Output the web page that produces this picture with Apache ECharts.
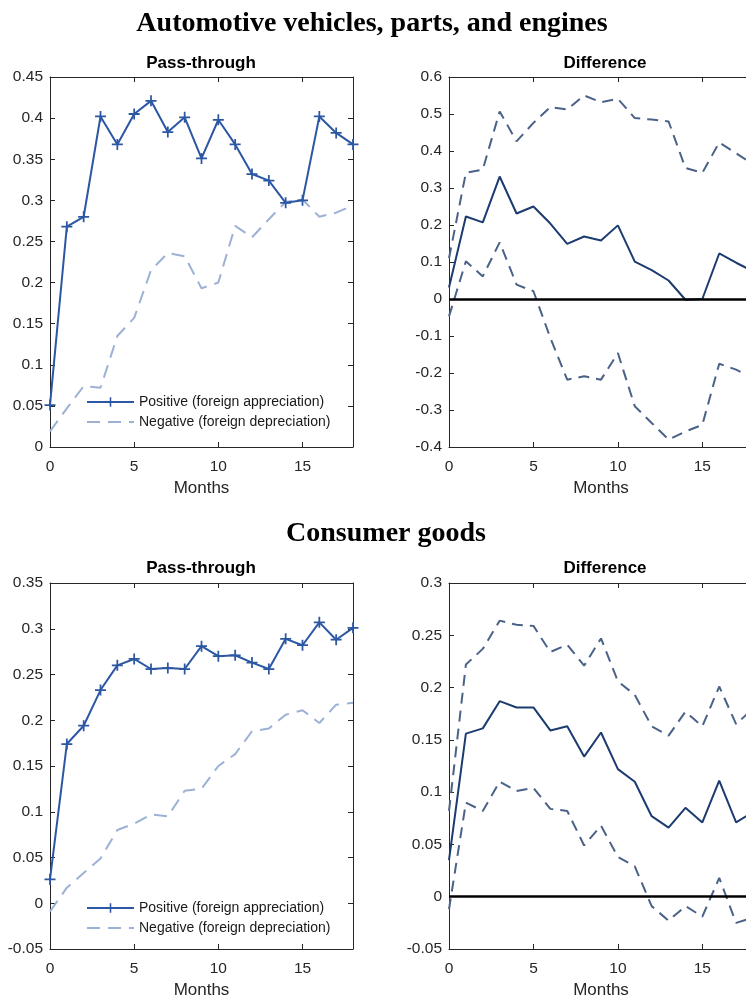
<!DOCTYPE html>
<html>
<head>
<meta charset="utf-8">
<script src="https://cdn.jsdelivr.net/npm/echarts@6/dist/echarts.min.js"></script>
<style>
  html, body { margin: 0; padding: 0; overflow: hidden; background: #fff; }
  #main { width: 760px; height: 1000px; }
</style>
</head>
<body>
<div id="main"></div>
<script>
// months after the shock
const months = [0, 1, 2, 3, 4, 5, 6, 7, 8, 9, 10, 11, 12, 13, 14, 15, 16, 17, 18];

// automotive vehicles, parts, and engines
const autoPos = [0.051, 0.268, 0.280, 0.402, 0.368, 0.405, 0.421, 0.383, 0.401, 0.351, 0.398, 0.368, 0.332, 0.324, 0.297, 0.300, 0.402, 0.382, 0.368];
const autoNeg = [0.019, 0.047, 0.074, 0.072, 0.135, 0.157, 0.215, 0.236, 0.232, 0.193, 0.200, 0.269, 0.255, 0.277, 0.298, 0.301, 0.280, 0.285, 0.294];
const autoDiff = [0.031, 0.223, 0.207, 0.331, 0.231, 0.250, 0.204, 0.149, 0.169, 0.158, 0.199, 0.101, 0.078, 0.050, -0.002, 0.000, 0.123, 0.098, 0.075];
const autoUpper = [0.110, 0.341, 0.350, 0.507, 0.426, 0.476, 0.519, 0.512, 0.550, 0.532, 0.541, 0.489, 0.485, 0.480, 0.354, 0.341, 0.423, 0.394, 0.364];
const autoLower = [-0.047, 0.102, 0.061, 0.153, 0.039, 0.021, -0.105, -0.218, -0.209, -0.218, -0.146, -0.290, -0.335, -0.380, -0.358, -0.340, -0.175, -0.191, -0.214];

// consumer goods
const consPos = [0.026, 0.174, 0.194, 0.233, 0.260, 0.267, 0.256, 0.257, 0.256, 0.281, 0.270, 0.271, 0.263, 0.256, 0.289, 0.282, 0.307, 0.288, 0.301];
const consNeg = [-0.009, 0.017, 0.033, 0.049, 0.080, 0.087, 0.097, 0.095, 0.123, 0.125, 0.150, 0.163, 0.188, 0.191, 0.206, 0.211, 0.197, 0.217, 0.219];
const consDiff = [0.035, 0.156, 0.161, 0.187, 0.181, 0.181, 0.159, 0.163, 0.134, 0.157, 0.122, 0.110, 0.077, 0.066, 0.085, 0.071, 0.111, 0.071, 0.081];
const consUpper = [0.082, 0.222, 0.237, 0.264, 0.260, 0.259, 0.234, 0.241, 0.221, 0.247, 0.206, 0.193, 0.163, 0.154, 0.177, 0.163, 0.201, 0.165, 0.180];
const consLower = [-0.012, 0.090, 0.082, 0.110, 0.101, 0.104, 0.084, 0.082, 0.049, 0.068, 0.038, 0.029, -0.009, -0.023, -0.009, -0.019, 0.018, -0.025, -0.020];

// y ranges [min, max, interval] per panel
const yRanges = [[0, 0.45, 0.05], [-0.4, 0.6, 0.1], [-0.05, 0.35, 0.05], [-0.05, 0.3, 0.05]];

const POS = 'Positive (foreign appreciation)';
const NEG = 'Negative (foreign depreciation)';
const posColor = '#2c57a3';
const negColor = '#9db1d5';
const diffColor = '#1c3b70';
const bandColor = '#4b6288';
const axisColor = '#262626';
const sans = 'Liberation Sans, Arial, sans-serif';

const pair = arr => months.map((m, i) => [m, arr[i]]);

const grids = [
  { left: 50, top: 77, width: 303, height: 370 },
  { left: 449, top: 77, width: 304, height: 370 },
  { left: 50, top: 583, width: 303, height: 370 },
  { left: 449, top: 583, width: 304, height: 370 }
];

const xAxes = [];
const yAxes = [];
grids.forEach((g, i) => {
  const baseX = {
    type: 'value', gridIndex: i, min: 0, max: 18, interval: 5,
    axisLine: { show: true, onZero: false, lineStyle: { color: axisColor, width: 1 } },
    axisTick: { show: true, inside: true, length: 5, lineStyle: { color: axisColor } },
    splitLine: { show: false }
  };
  xAxes.push(Object.assign({}, baseX, {
    position: 'bottom',
    name: 'Months', nameLocation: 'middle', nameGap: 33,
    nameTextStyle: { fontFamily: sans, fontSize: 17, color: axisColor },
    axisLabel: { fontFamily: sans, fontSize: 15.5, color: axisColor, margin: 12, showMaxLabel: false }
  }));
  xAxes.push(Object.assign({}, baseX, { position: 'top', axisLabel: { show: false } }));
  const r = yRanges[i];
  const baseY = {
    type: 'value', gridIndex: i, min: r[0], max: r[1], interval: r[2],
    axisLine: { show: true, onZero: false, lineStyle: { color: axisColor, width: 1 } },
    axisTick: { show: true, inside: true, length: 5, lineStyle: { color: axisColor } },
    splitLine: { show: false }
  };
  yAxes.push(Object.assign({}, baseY, {
    position: 'left',
    axisLabel: { fontFamily: sans, fontSize: 15.5, color: axisColor, margin: 7 }
  }));
  yAxes.push(Object.assign({}, baseY, { position: 'right', axisLabel: { show: false } }));
});

const plus = 'path://M4.2,0H5.8V4.2H10V5.8H5.8V10H4.2V5.8H0V4.2H4.2Z';

function passSeries(g, pos, neg) {
  return [
    {
      name: POS, type: 'line', xAxisIndex: 2 * g, yAxisIndex: 2 * g, data: pair(pos),
      symbol: plus, symbolSize: 11, showSymbol: true,
      itemStyle: { color: posColor },
      lineStyle: { color: posColor, width: 2 }, z: 3
    },
    {
      name: NEG, type: 'line', xAxisIndex: 2 * g, yAxisIndex: 2 * g, data: pair(neg),
      symbol: 'none', itemStyle: { color: negColor },
      lineStyle: { color: negColor, width: 2, type: [13, 8] }, z: 2
    }
  ];
}

function diffSeries(g, mid, up, low) {
  return [
    {
      type: 'line', xAxisIndex: 2 * g, yAxisIndex: 2 * g, data: pair(mid),
      symbol: 'none', lineStyle: { color: diffColor, width: 2 }, z: 3,
      markLine: {
        silent: true, symbol: 'none', label: { show: false },
        lineStyle: { color: '#000', width: 2.5, type: 'solid' },
        data: [{ yAxis: 0 }]
      }
    },
    {
      type: 'line', xAxisIndex: 2 * g, yAxisIndex: 2 * g, data: pair(up),
      symbol: 'none', lineStyle: { color: bandColor, width: 2, type: [11, 7] }
    },
    {
      type: 'line', xAxisIndex: 2 * g, yAxisIndex: 2 * g, data: pair(low),
      symbol: 'none', lineStyle: { color: bandColor, width: 2, type: [11, 7] }
    }
  ];
}

const legendBase = {
  orient: 'vertical', left: 86, padding: 0, itemWidth: 47, itemHeight: 12, itemGap: 6,
  data: [POS, { name: NEG, itemStyle: { opacity: 0 } }], selectedMode: false,
  textStyle: { fontFamily: sans, fontSize: 14, color: '#1a1a1a' }
};

const subTitle = (text, x, y) => ({
  text, left: x, top: y, textAlign: 'center', padding: 0,
  textStyle: { fontFamily: sans, fontSize: 17, fontWeight: 'bold', color: '#000' }
});
const mainTitle = (text, x, y) => ({
  text, left: x, top: y, textAlign: 'center', padding: 0,
  textStyle: { fontFamily: 'Liberation Serif, Times New Roman, serif', fontSize: 28, fontWeight: 'bold', color: '#000' }
});

const option = {
  animation: false,
  backgroundColor: '#fff',
  title: [
    mainTitle('Automotive vehicles, parts, and engines', 372, 10),
    mainTitle('Consumer goods', 386, 520),
    subTitle('Pass-through', 201, 55),
    subTitle('Difference', 605, 55),
    subTitle('Pass-through', 201, 560),
    subTitle('Difference', 605, 560)
  ],
  legend: [
    Object.assign({}, legendBase, { top: 395 }),
    Object.assign({}, legendBase, { top: 901 })
  ],
  grid: grids,
  xAxis: xAxes,
  yAxis: yAxes,
  series: [
    ...passSeries(0, autoPos, autoNeg),
    ...diffSeries(1, autoDiff, autoUpper, autoLower),
    ...passSeries(2, consPos, consNeg),
    ...diffSeries(3, consDiff, consUpper, consLower)
  ]
};

const myChart = echarts.init(document.getElementById('main'));
myChart.setOption(option);
</script>
</body>
</html>
